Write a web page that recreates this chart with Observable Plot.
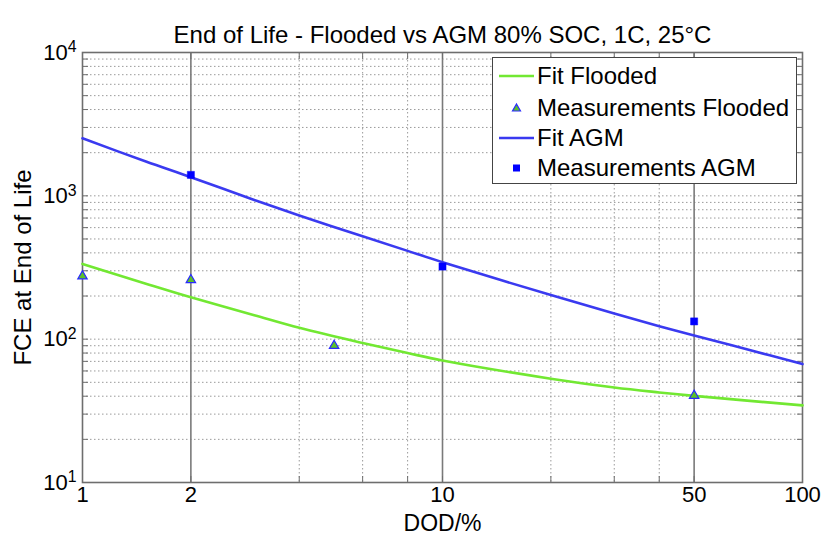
<!DOCTYPE html>
<html>
<head>
<meta charset="utf-8">
<script src="https://cdn.jsdelivr.net/npm/d3@7"></script>
<script src="https://cdn.jsdelivr.net/npm/@observablehq/plot@0.6"></script>
<style>
  html, body { margin: 0; padding: 0; background: #fff; }
  #wrap { position: relative; width: 825px; height: 535px; font-family: "Liberation Sans", Arial, sans-serif; }
  #legend { position: absolute; left: 492px; top: 57px; width: 305px; height: 127px; box-sizing: border-box;
            border: 1.5px solid #444; background: #fff; }
  .row { position: absolute; left: 0; height: 30px; display: flex; align-items: center; font-size: 24px; color: #000; white-space: nowrap; }
  .row svg { display: block; margin-left: 5px; margin-right: 2px; }
</style>
</head>
<body>
<div id="wrap"></div>
<script>
// ---- data ----
const title = "End of Life - Flooded vs AGM 80% SOC, 1C, 25°C";
const xLabel = "DOD/%";
const yLabel = "FCE at End of Life";

const xTickLabels = [1, 2, 10, 50, 100];
const xMinorGrid = [4, 6, 8, 20, 30, 40];
const xMajorGrid = [2, 10, 50];
const yTickLabels = [10, 100, 1000, 10000];
const yGrid = [20,30,40,50,60,70,80,90,100,200,300,400,500,600,700,800,900,1000,2000,3000,4000,5000,6000,7000,8000,9000];

// Fit Flooded
const fitFloodedDOD = [1, 1.5, 2, 3, 4, 6, 8, 10, 20, 30, 40, 50, 100];
const fitFloodedFCE = [335, 244, 196, 147, 120, 94, 80, 71, 53, 46, 42.5, 40.2, 34.5];
// Measurements Flooded
const measFloodedDOD = [1, 2, 5, 50];
const measFloodedFCE = [275, 259, 90, 40.4];
// Fit AGM
const fitAGMDOD = [1, 1.5, 2, 3, 4, 6, 8, 10, 20, 30, 40, 50, 70, 100];
const fitAGMFCE = [2520, 1735, 1350, 935, 730, 522, 413, 344, 203, 151, 123, 106, 85, 67];
// Measurements AGM
const measAGMDOD = [2, 10, 50];
const measAGMFCE = [1400, 321, 133];

const legendLabels = ["Fit Flooded", "Measurements Flooded", "Fit AGM", "Measurements AGM"];

const greenLine = "#72e832";
const blueLine = "#3a3af0";
const triFill = "#5cc02a";
const triStroke = "#2a2aff";
const squareFill = "#0000ff";

const toRows = (xs, ys) => xs.map((x, i) => ({x, y: ys[i]}));
const fitFlooded = toRows(fitFloodedDOD, fitFloodedFCE);
const measFlooded = toRows(measFloodedDOD, measFloodedFCE);
const fitAGM = toRows(fitAGMDOD, fitAGMFCE);
const measAGM = toRows(measAGMDOD, measAGMFCE);

const xAllTicks = [...xTickLabels, ...xMinorGrid];
const gridGray = "#9a9a9a";
const axisGray = "#6e6e6e";

const chart = Plot.plot({
  width: 825,
  height: 535,
  marginLeft: 82,
  marginRight: 23,
  marginTop: 52,
  marginBottom: 53,
  style: { fontFamily: "'Liberation Sans', Arial, sans-serif", fontSize: "22px", color: "#000", background: "#fff" },
  x: { type: "log", domain: [1, 100] },
  y: { type: "log", domain: [10, 10000] },
  marks: [
    Plot.ruleY(yGrid, { stroke: gridGray, strokeWidth: 1, strokeDasharray: "1.5,2.5" }),
    Plot.ruleX(xMinorGrid, { stroke: gridGray, strokeWidth: 1, strokeDasharray: "1.5,2.5" }),
    Plot.ruleX(xMajorGrid, { stroke: "#7a7a7a", strokeWidth: 1.6 }),
    Plot.frame({ stroke: axisGray, strokeWidth: 1.6 }),
    Plot.axisX({ ticks: xAllTicks, tickSize: -6, tickFormat: () => "", label: null, stroke: axisGray }),
    Plot.axisX({ anchor: "top", ticks: xAllTicks, tickSize: -6, tickFormat: () => "", label: null, stroke: axisGray }),
    Plot.axisY({ ticks: yGrid.concat([10, 10000]), tickSize: -6, tickFormat: () => "", label: null, stroke: axisGray }),
    Plot.axisY({ anchor: "right", ticks: yGrid.concat([10, 10000]), tickSize: -6, tickFormat: () => "", label: null, stroke: axisGray }),
    Plot.axisX({ ticks: xTickLabels, tickSize: 0, tickPadding: 4, tickFormat: d => String(d), fontSize: 22,
                 label: xLabel, labelAnchor: "center", labelArrow: "none", labelOffset: 48 }),
    Plot.axisY({ ticks: yTickLabels, tickSize: 0, tickPadding: 6, tickFormat: d => "10^" + Math.round(Math.log10(d)), fontSize: 22,
                 label: yLabel, labelAnchor: "center", labelArrow: "none", labelOffset: 69 }),
    Plot.line(fitFlooded, { x: "x", y: "y", stroke: greenLine, strokeWidth: 2.6, curve: "catmull-rom" }),
    Plot.line(fitAGM, { x: "x", y: "y", stroke: blueLine, strokeWidth: 2.6, curve: "catmull-rom" }),
    Plot.dot(measFlooded, { x: "x", y: "y", symbol: "triangle", r: 3.5, fill: triFill, stroke: triStroke, strokeWidth: 1.2 }),
    Plot.dot(measAGM, { x: "x", y: "y", symbol: "square", r: 4, fill: squareFill, stroke: squareFill, strokeWidth: 0.5 }),
    Plot.text([title], { frameAnchor: "top", dy: -27, fontSize: 24, fill: "#000" })
  ]
});

// superscript exponents on the y tick labels
d3.select(chart).selectAll('g[aria-label="y-axis tick label"] text').each(function() {
  const t = d3.select(this);
  const s = t.text();
  if (s.indexOf("^") >= 0) {
    const [base, exp] = s.split("^");
    t.text(base);
    t.append("tspan").attr("dy", "-0.45em").attr("font-size", "0.72em").text(exp);
  }
});
// axis label sizes
d3.select(chart).selectAll('g[aria-label="y-axis label"] text').attr("font-size", 24);
d3.select(chart).selectAll('g[aria-label="x-axis label"] text').attr("font-size", 23);

const wrap = document.getElementById("wrap");
wrap.appendChild(chart);

// legend
const legend = document.createElement("div");
legend.id = "legend";
const rowTops = [3, 35, 65, 95];
const samples = [
  `<svg width="37" height="30"><line x1="1" y1="15" x2="36" y2="15" stroke="${greenLine}" stroke-width="2.6"/></svg>`,
  `<svg width="37" height="30"><path d="M18.5,11 L22.5,18 L14.5,18 Z" fill="${triFill}" stroke="${triStroke}" stroke-width="1.2"/></svg>`,
  `<svg width="37" height="30"><line x1="1" y1="15" x2="36" y2="15" stroke="${blueLine}" stroke-width="2.6"/></svg>`,
  `<svg width="37" height="30"><rect x="15" y="11.5" width="7" height="7" fill="${squareFill}"/></svg>`
];
legendLabels.forEach((lab, i) => {
  const r = document.createElement("div");
  r.className = "row";
  r.style.top = rowTops[i] + "px";
  r.innerHTML = samples[i] + `<span>${lab}</span>`;
  legend.appendChild(r);
});
wrap.appendChild(legend);
</script>
</body>
</html>
